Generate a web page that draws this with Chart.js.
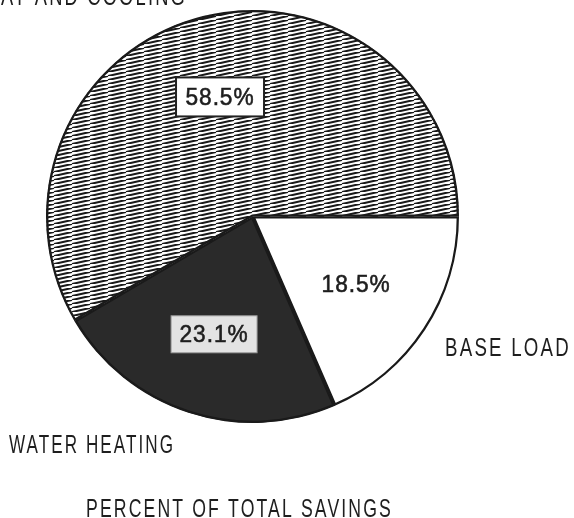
<!DOCTYPE html>
<html>
<head>
<meta charset="utf-8">
<script src="https://cdn.jsdelivr.net/npm/chart.js@4"></script>
<style>
  html, body { margin: 0; padding: 0; background: #fff; }
  #wrap { width: 574px; height: 518px; position: relative; }
</style>
</head>
<body>
<div id="wrap"><canvas id="c" width="574" height="518"></canvas></div>
<script>
// ---- data ----
const categories = ['BASE LOAD', 'WATER HEATING', 'HEAT AND COOLING'];
const savingsPercent = [18.5, 23.1, 58.5];
const percentLabels = ['18.5%', '23.1%', '58.5%'];
const chartTitle = 'PERCENT OF TOTAL SAVINGS';

// hatch pattern for heat & cooling
function makeHatch() {
  const w = 18, h = 4;
  const p = document.createElement('canvas');
  p.width = w; p.height = h;
  const g = p.getContext('2d');
  g.fillStyle = '#ffffff';
  g.fillRect(0, 0, w, h);
  g.strokeStyle = '#1a1a1a';
  g.lineWidth = 2.1;
  for (const off of [-w, 0, w]) {
    g.beginPath();
    g.moveTo(off, h);
    g.lineTo(off + w, 0);
    g.stroke();
  }
  return g.createPattern(p, 'repeat');
}
const hatch = makeHatch();

const labelStyles = [
  { box: null },
  { box: { fill: '#e3e3e3', stroke: '#9a9a9a', lw: 1, w: 86, h: 37 } },
  { box: { fill: '#ffffff', stroke: '#222', lw: 2, w: 88, h: 39 } }
];

const textPlugin = {
  id: 'texts',
  afterDatasetsDraw(chart) {
    const ctx = chart.ctx;
    const meta = chart.getDatasetMeta(0);
    ctx.save();
    // percentage labels along the mid-angle of each slice
    meta.data.forEach((arc, i) => {
      const p = arc.getProps(['x', 'y', 'startAngle', 'endAngle', 'outerRadius'], true);
      const mid = (p.startAngle + p.endAngle) / 2;
      const r = p.outerRadius * 0.6;
      const x = p.x + Math.cos(mid) * r;
      const y = p.y + Math.sin(mid) * r;
      const st = labelStyles[i];
      if (st.box) {
        ctx.fillStyle = st.box.fill;
        ctx.fillRect(x - st.box.w / 2, y - st.box.h / 2, st.box.w, st.box.h);
        ctx.strokeStyle = st.box.stroke;
        ctx.lineWidth = st.box.lw;
        ctx.strokeRect(x - st.box.w / 2, y - st.box.h / 2, st.box.w, st.box.h);
      }
      ctx.fillStyle = '#1e1e1e';
      ctx.strokeStyle = '#1e1e1e';
      ctx.lineWidth = 0.6;
      ctx.font = '24px "Liberation Sans", Arial, sans-serif';
      ctx.letterSpacing = '1px';
      ctx.textAlign = 'center';
      ctx.textBaseline = 'middle';
      ctx.fillText(percentLabels[i], x, y + 1, 69);
      ctx.strokeText(percentLabels[i], x, y + 1, 69);
    });
    // category labels and title
    ctx.font = '25px "Liberation Sans", Arial, sans-serif';
    ctx.letterSpacing = '3px';
    ctx.textBaseline = 'alphabetic';
    ctx.fillStyle = '#1e1e1e';
    ctx.textAlign = 'left';
    const whNat = ctx.measureText(categories[1]).width;
    const scale = 166 / whNat;
    ctx.fillText(categories[1], 9, 453, 166);
    ctx.fillText(categories[0], 445, 356, 126);
    ctx.fillText(chartTitle, 86, 517, 307);
    const hcNat = ctx.measureText(categories[2]).width * scale * 1.07;
    ctx.textAlign = 'right';
    ctx.fillText(categories[2], 187, 5, hcNat);
    ctx.restore();
  }
};

new Chart(document.getElementById('c'), {
  type: 'pie',
  data: {
    labels: categories,
    datasets: [{
      data: savingsPercent,
      backgroundColor: ['#ffffff', '#2a2a2a', hatch],
      borderColor: '#1a1a1a',
      borderWidth: 2,
      borderAlign: 'inner'
    }]
  },
  options: {
    responsive: false,
    animation: false,
    rotation: 90,
    layout: { padding: { left: 46, right: 115, top: 10, bottom: 95 } },
    plugins: {
      legend: { display: false },
      tooltip: { enabled: false },
      title: { display: false }
    }
  },
  plugins: [textPlugin]
});
</script>
</body>
</html>
